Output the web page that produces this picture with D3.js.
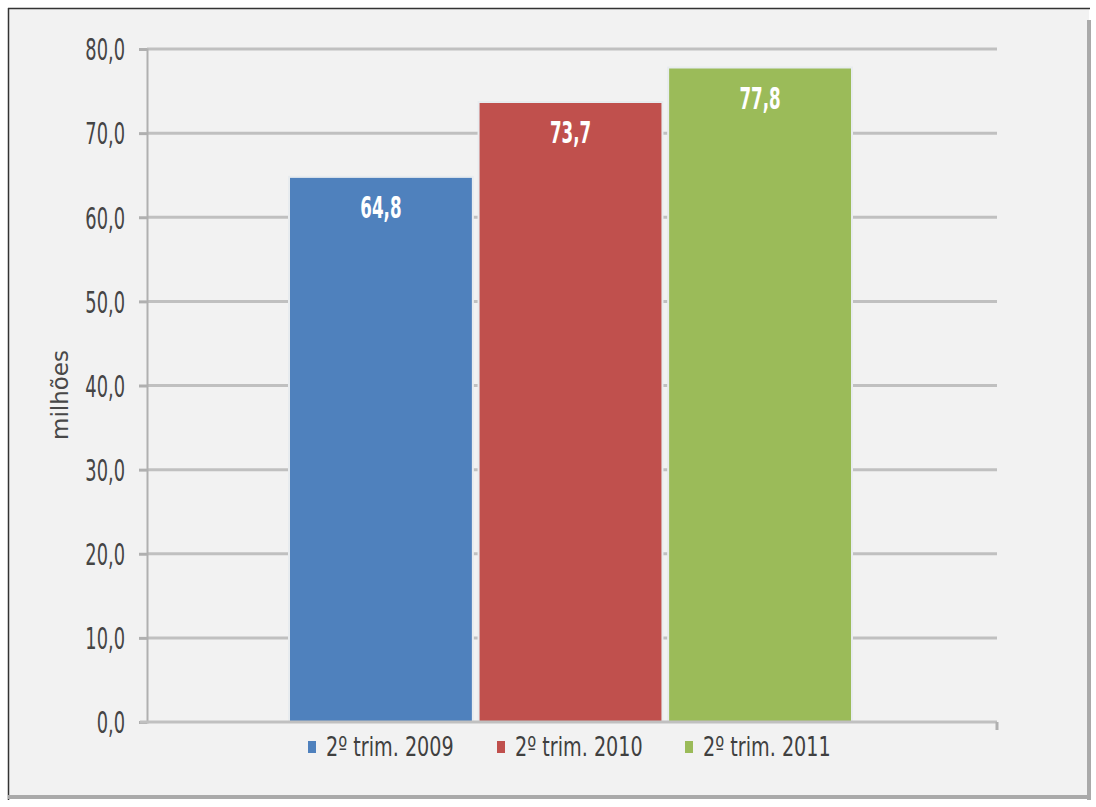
<!DOCTYPE html>
<html>
<head>
<meta charset="utf-8">
<script src="https://cdn.jsdelivr.net/npm/d3@7"></script>
<style>
  html, body { margin: 0; padding: 0; background: #ffffff; }
  svg { display: block; }
  .narrow { font-family: "DejaVu Sans Condensed", "Liberation Sans Narrow", sans-serif; }
</style>
</head>
<body>
<svg id="chart" width="1096" height="807"></svg>
<script>
// Series: one bar per quarter
const categories = ["2º trim. 2009", "2º trim. 2010", "2º trim. 2011"];
const values = [64.8, 73.7, 77.8];
const colors = ["#4f81bd", "#c0504d", "#9bbb59"];
const yTicks = [0, 10, 20, 30, 40, 50, 60, 70, 80];
const yTitle = "milhões";

const svg = d3.select("#chart");
const fmt = v => d3.format(".1f")(v).replace(".", ",");

// Chart frame
svg.append("rect").attr("x", 9).attr("y", 9).attr("width", 1080).attr("height", 788)
  .attr("fill", "#f2f2f2");
svg.append("line").attr("x1", 8).attr("x2", 1090).attr("y1", 8.5).attr("y2", 8.5)
  .attr("stroke", "#333").attr("stroke-width", 1.5);
svg.append("line").attr("x1", 8.5).attr("x2", 8.5).attr("y1", 8).attr("y2", 800)
  .attr("stroke", "#333").attr("stroke-width", 1.5);
svg.append("line").attr("x1", 1089).attr("x2", 1089).attr("y1", 20).attr("y2", 800)
  .attr("stroke", "#aaa").attr("stroke-width", 4);
svg.append("line").attr("x1", 8).attr("x2", 1091).attr("y1", 797).attr("y2", 797)
  .attr("stroke", "#aaa").attr("stroke-width", 4);

// Plot area
const plotLeft = 147, plotRight = 997, plotTop = 49, plotBottom = 722;
const y = d3.scaleLinear().domain([0, 80]).range([plotBottom, plotTop]);
const x = d3.scaleBand().domain(categories).range([289, 852]).paddingInner(0.03);

// Gridlines
svg.append("g").selectAll("line").data(yTicks.filter(d => d > 0)).join("line")
  .attr("x1", plotLeft).attr("x2", plotRight)
  .attr("y1", d => y(d)).attr("y2", d => y(d))
  .attr("stroke", "#c0c0c0").attr("stroke-width", 3);

// Y axis with narrow tick labels
const tickScaleX = 0.66;
const yAxis = d3.axisLeft(y).tickValues(yTicks).tickSize(8).tickFormat(fmt);
const gy = svg.append("g").attr("transform", `translate(${plotLeft},0)`).call(yAxis);
gy.select(".domain").attr("stroke", "#b0b0b0").attr("stroke-width", 2);
gy.selectAll(".tick line").attr("stroke", "#b0b0b0").attr("stroke-width", 3);
gy.selectAll(".tick text")
  .attr("class", "narrow")
  .attr("x", -22 / tickScaleX).attr("dy", "0.36em")
  .attr("transform", `scale(${tickScaleX},1)`)
  .attr("fill", "#454545").attr("font-size", 30);

// Bars
svg.append("g").selectAll("rect").data(values).join("rect")
  .attr("x", (d, i) => x(categories[i]))
  .attr("y", d => y(d))
  .attr("width", x.bandwidth())
  .attr("height", d => plotBottom - y(d))
  .attr("fill", (d, i) => colors[i])
  .attr("stroke", "#e8ecef").attr("stroke-width", 2);

// X axis (baseline)
svg.append("line").attr("x1", 140).attr("x2", plotRight).attr("y1", plotBottom).attr("y2", plotBottom)
  .attr("stroke", "#c0c0c0").attr("stroke-width", 3);
svg.append("line").attr("x1", plotRight).attr("x2", plotRight).attr("y1", plotBottom).attr("y2", plotBottom + 8)
  .attr("stroke", "#b0b0b0").attr("stroke-width", 3);

// Value labels inside the bars
const labelScaleX = 0.62;
svg.append("g").selectAll("text").data(values).join("text")
  .attr("class", "narrow")
  .attr("transform", (d, i) => `translate(${x(categories[i]) + x.bandwidth() / 2},${y(d) + 41}) scale(${labelScaleX},1)`)
  .attr("text-anchor", "middle")
  .attr("fill", "#ffffff").attr("font-size", 30).attr("font-weight", "bold")
  .text(fmt);

// Axis title
svg.append("text")
  .attr("transform", "translate(68,395) rotate(-90)")
  .attr("text-anchor", "middle")
  .attr("font-family", "DejaVu Sans, sans-serif")
  .attr("font-size", 23)
  .attr("fill", "#484848")
  .text(yTitle);

// Legend
const legendScaleX = 0.82;
const legendX = [308, 497, 685];
const lg = svg.append("g").selectAll("g").data(categories).join("g")
  .attr("transform", (d, i) => `translate(${legendX[i]},747)`);
lg.append("rect").attr("x", 0).attr("y", -6).attr("width", 8).attr("height", 12)
  .attr("fill", (d, i) => colors[i]);
lg.append("text").attr("class", "narrow")
  .attr("transform", `translate(18,0) scale(${legendScaleX},1)`)
  .attr("dy", "0.36em")
  .attr("fill", "#404040").attr("font-size", 26)
  .text(d => d);
</script>
</body>
</html>
